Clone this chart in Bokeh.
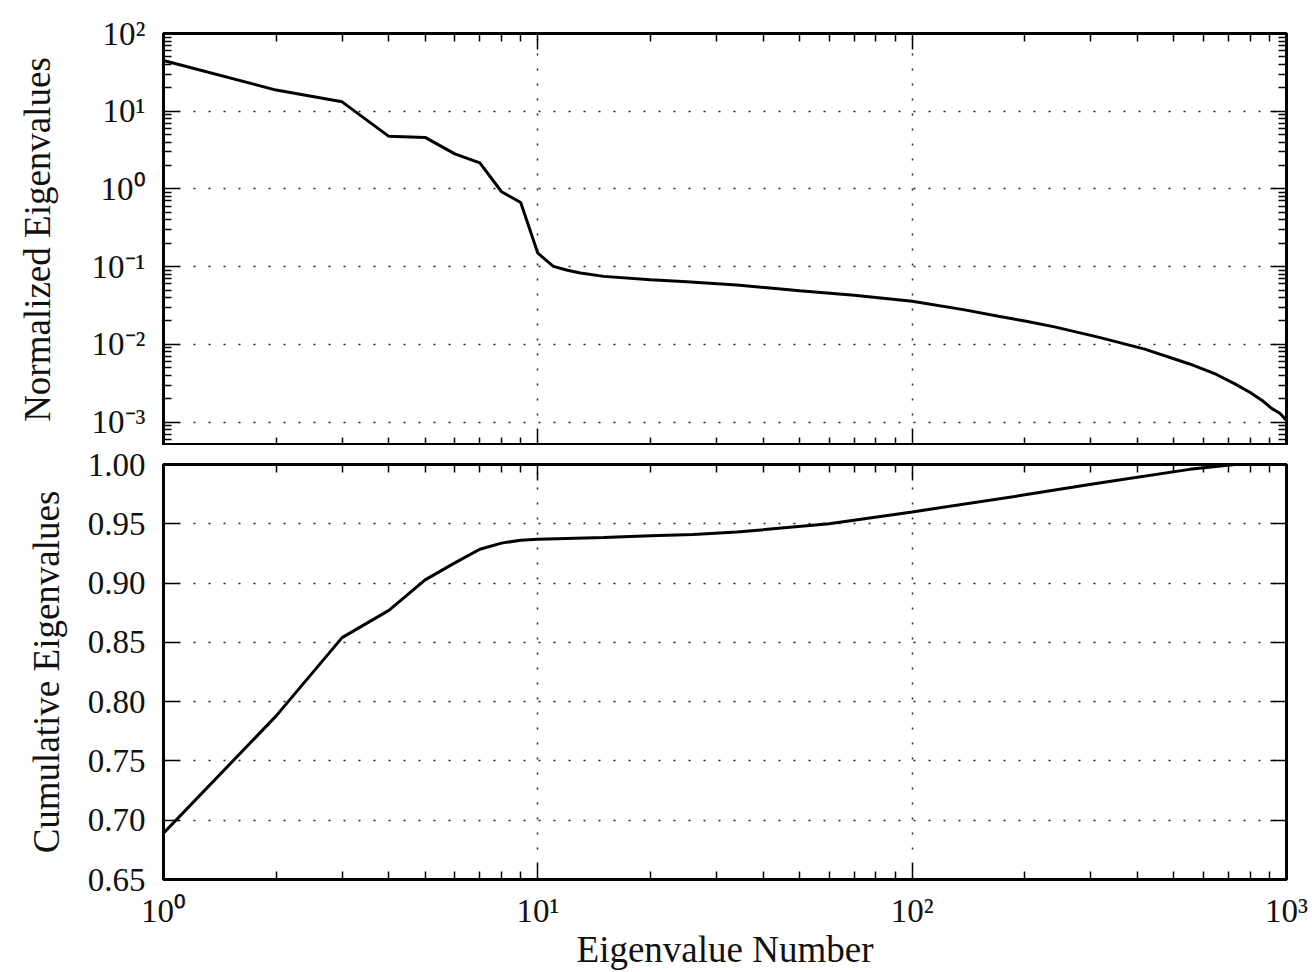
from bokeh.plotting import figure
from bokeh.models import (FixedTicker, LogAxis, LinearAxis, CustomJSTickFormatter,
                          PrintfTickFormatter, Range1d)
from bokeh.layouts import column
from bokeh.embed import file_html
from bokeh.resources import INLINE

# ---------------- data ----------------
eig_number = [1, 2, 3, 4, 5, 6, 7, 8, 9, 10, 11, 12, 13, 15, 20, 25, 34, 50, 70, 100,
              137, 170, 200, 240, 316, 418, 551, 650, 728, 800, 861, 912, 960, 1000]
norm_eigenvalues = [45.0, 18.7, 13.2, 4.75, 4.6, 2.83, 2.17, 0.92, 0.67, 0.149, 0.101,
                    0.090, 0.083, 0.075, 0.068, 0.064, 0.058, 0.049, 0.043, 0.036,
                    0.028, 0.023, 0.020, 0.0168, 0.0123, 0.0087, 0.0056, 0.0041, 0.0031,
                    0.0024, 0.0019, 0.0015, 0.0013, 0.00105]

cum_number = [1, 2, 3, 4, 5, 6, 7, 8, 9, 10, 15, 20, 26, 34, 60, 100, 200, 316, 551, 728, 1000]
cum_eigenvalues = [0.689, 0.788, 0.854, 0.877, 0.9027, 0.917, 0.9285, 0.9337, 0.9362, 0.937,
                   0.9385, 0.940, 0.941, 0.943, 0.950, 0.960, 0.9744, 0.9844, 0.9959, 1.0, 1.0]

x_major = [1, 10, 100, 1000]
y_top_major = [1e-3, 1e-2, 1e-1, 1, 10, 100]
y_bottom_major = [0.65, 0.70, 0.75, 0.80, 0.85, 0.90, 0.95, 1.00]

x_label = "Eigenvalue Number"
y_top_label = "Normalized Eigenvalues"
y_bottom_label = "Cumulative Eigenvalues"

# ---------------- styling ----------------
FONT = "Liberation Serif"
TICK_SIZE = "33px"
LABEL_SIZE = "37px"

x_minor = [m * 10 ** e for e in range(0, 3) for m in range(2, 10)]
y_top_minor = [m * 10.0 ** e for e in range(-4, 2) for m in range(2, 10) if m * 10.0 ** e >= 5e-4]

sup_js = """
const e = Math.round(Math.log10(tick));
const m = {"-": "\\u207b", "0": "\\u2070", "1": "\\u00b9", "2": "\\u00b2", "3": "\\u00b3",
           "4": "\\u2074", "5": "\\u2075", "6": "\\u2076", "7": "\\u2077", "8": "\\u2078", "9": "\\u2079"};
let s = "";
for (const c of String(e)) { s += (m[c] !== undefined ? m[c] : c); }
return "10" + s;
"""

x_range = Range1d(1, 1000)


def style_axis(ax, show_labels):
    ax.axis_line_width = 3
    ax.axis_line_color = "black"
    ax.major_tick_in = 16
    ax.major_tick_out = 0
    ax.minor_tick_in = 8
    ax.minor_tick_out = 0
    ax.major_tick_line_width = 1.5
    ax.minor_tick_line_width = 1.5
    ax.major_tick_line_color = "black"
    ax.minor_tick_line_color = "black"
    ax.major_label_text_font = FONT
    ax.major_label_text_font_style = "normal"
    ax.axis_label_text_font = FONT
    ax.axis_label_text_font_style = "normal"
    ax.axis_label_text_font_size = LABEL_SIZE
    ax.axis_label_text_color = "#111111"
    if show_labels:
        ax.major_label_text_font_size = TICK_SIZE
        ax.major_label_text_color = "#111111"
        ax.major_label_text_alpha = 1.0
    else:
        ax.major_label_text_font_size = "1px"
        ax.major_label_text_alpha = 0.0
        ax.major_label_standoff = 0


def style_fig(p):
    p.outline_line_color = "black"
    p.outline_line_width = 3
    p.background_fill_color = "white"
    p.border_fill_color = "white"
    for g in (p.xgrid[0], p.ygrid[0]):
        g.grid_line_color = "#222222"
        g.grid_line_width = 1.5
        g.grid_line_dash = "2 13"


# ---------------- top panel ----------------
p1 = figure(x_axis_type="log", y_axis_type="log", x_range=x_range,
            y_range=Range1d(5e-4, 100),
            frame_width=1123, frame_height=412,
            min_border_left=163, min_border_right=26, min_border_top=33, min_border_bottom=0,
            output_backend="svg", toolbar_location=None)
p1.add_layout(LogAxis(), "above")
p1.add_layout(LogAxis(), "right")
xt = FixedTicker(ticks=x_major, minor_ticks=x_minor)
yt1 = FixedTicker(ticks=y_top_major, minor_ticks=y_top_minor)
for ax in p1.xaxis:
    ax.ticker = xt
    style_axis(ax, False)
for ax in p1.yaxis:
    ax.ticker = yt1
    ax.formatter = CustomJSTickFormatter(code=sup_js)
    style_axis(ax, False)
left1 = p1.left[0]
style_axis(left1, True)
left1.major_label_standoff = 18
left1.axis_label = y_top_label
left1.axis_label_standoff = 31
p1.xgrid[0].ticker = FixedTicker(ticks=x_major)
p1.ygrid[0].ticker = FixedTicker(ticks=y_top_major)
style_fig(p1)
p1.line(eig_number, norm_eigenvalues, line_color="black", line_width=3)

# ---------------- bottom panel ----------------
p2 = figure(x_axis_type="log", x_range=x_range,
            y_range=Range1d(0.65, 1.00),
            frame_width=1123, frame_height=415,
            min_border_left=163, min_border_right=26, min_border_top=19, min_border_bottom=92,
            output_backend="svg", toolbar_location=None)
p2.add_layout(LogAxis(), "above")
p2.add_layout(LinearAxis(), "right")
yt2 = FixedTicker(ticks=y_bottom_major, minor_ticks=[])
for ax in p2.xaxis:
    ax.ticker = xt
    ax.formatter = CustomJSTickFormatter(code=sup_js)
    style_axis(ax, False)
for ax in p2.yaxis:
    ax.ticker = yt2
    ax.formatter = PrintfTickFormatter(format="%.2f")
    style_axis(ax, False)
bottom2 = p2.below[0]
style_axis(bottom2, True)
bottom2.major_label_standoff = 13
bottom2.axis_label = x_label
bottom2.axis_label_standoff = -3
left2 = p2.left[0]
style_axis(left2, True)
left2.major_label_standoff = 18
left2.axis_label = y_bottom_label
left2.axis_label_standoff = 18
p2.xgrid[0].ticker = FixedTicker(ticks=x_major)
p2.ygrid[0].ticker = FixedTicker(ticks=y_bottom_major)
style_fig(p2)
p2.line(cum_number, cum_eigenvalues, line_color="black", line_width=3)

layout = column(p1, p2, spacing=0)
open("out.html", "w").write(file_html(layout, INLINE))
